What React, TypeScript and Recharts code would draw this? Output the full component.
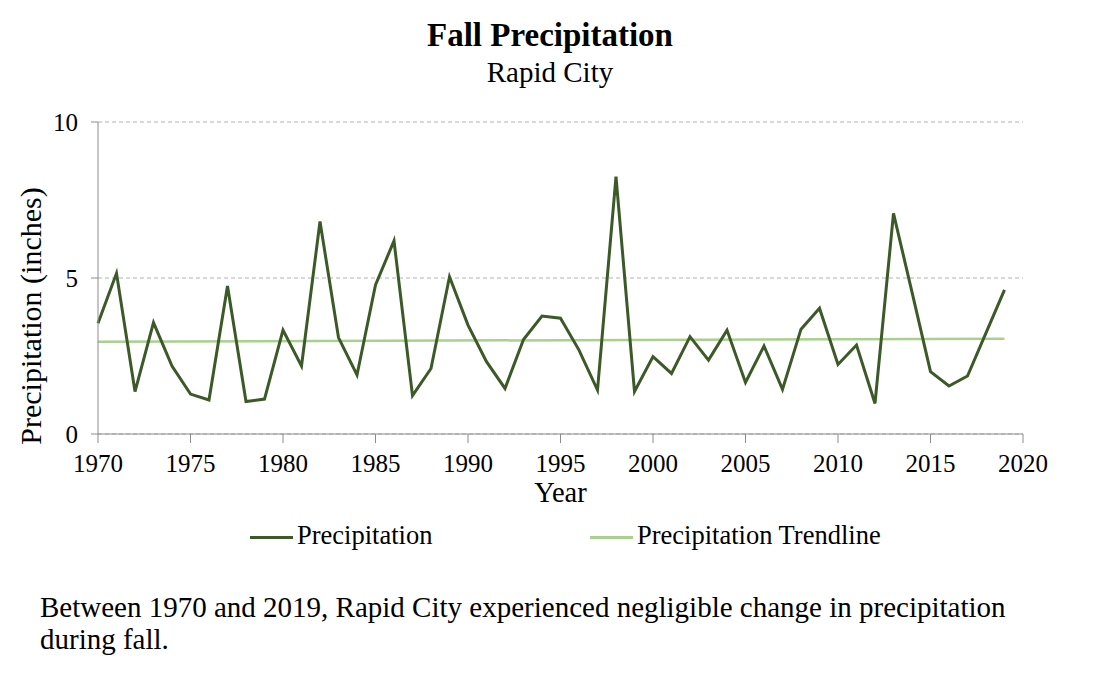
import React from 'react';
import { LineChart, Line, XAxis, YAxis, CartesianGrid } from 'recharts';

const years = [
  1970, 1971, 1972, 1973, 1974, 1975, 1976, 1977, 1978, 1979,
  1980, 1981, 1982, 1983, 1984, 1985, 1986, 1987, 1988, 1989,
  1990, 1991, 1992, 1993, 1994, 1995, 1996, 1997, 1998, 1999,
  2000, 2001, 2002, 2003, 2004, 2005, 2006, 2007, 2008, 2009,
  2010, 2011, 2012, 2013, 2014, 2015, 2016, 2017, 2018, 2019,
];

const precipitation = [
  3.55, 5.15, 1.36, 3.57, 2.18, 1.28, 1.09, 4.74, 1.04, 1.12,
  3.33, 2.18, 6.81, 3.09, 1.89, 4.78, 6.19, 1.23, 2.10, 5.04,
  3.49, 2.32, 1.46, 3.03, 3.78, 3.71, 2.69, 1.41, 8.25, 1.36,
  2.48, 1.94, 3.12, 2.37, 3.33, 1.65, 2.82, 1.43, 3.36, 4.03,
  2.23, 2.85, 0.98, 7.07, 4.55, 2.00, 1.54, 1.86, 3.24, 4.62,
];

// trendline end values (linear, drawn between first and last year)
const trendStart = 2.96;
const trendEnd = 3.05;

const xTicks = [1970, 1975, 1980, 1985, 1990, 1995, 2000, 2005, 2010, 2015, 2020];
const yTicks = [0, 5, 10];

const data = years.map((year, i) => ({
  year,
  precip: precipitation[i],
  trend: i === 0 ? trendStart : i === years.length - 1 ? trendEnd : null,
}));

const FONT = '"Liberation Serif", "Times New Roman", serif';
const DARK = '#3b5a27';
const LIGHT = '#a9d18e';
const AXIS = '#8c8c8c';

const abs = (style: React.CSSProperties): React.CSSProperties => ({
  position: 'absolute',
  whiteSpace: 'nowrap',
  lineHeight: 1,
  color: '#000',
  ...style,
});

export default function App() {
  return (
    <div
      style={{
        position: 'absolute',
        left: 0,
        top: 0,
        width: 1100,
        height: 675,
        background: '#fff',
        fontFamily: FONT,
        overflow: 'hidden',
      }}
    >
      <div style={abs({ left: 0, width: 1100, top: 19, textAlign: 'center', fontSize: 33, fontWeight: 'bold' })}>
        Fall Precipitation
      </div>
      <div style={abs({ left: 0, width: 1100, top: 58, textAlign: 'center', fontSize: 29 })}>Rapid City</div>

      <LineChart
        width={1100}
        height={675}
        data={data}
        margin={{ top: 122, right: 77, bottom: 201, left: 48 }}
        style={{ position: 'absolute', left: 0, top: 0 }}
      >
        <CartesianGrid vertical={false} stroke="#b3b3b3" strokeDasharray="4 3" />
        <XAxis
          dataKey="year"
          type="number"
          domain={[1970, 2020]}
          ticks={xTicks}
          interval={0}
          height={40}
          tickSize={9}
          tickMargin={11}
          axisLine={{ stroke: AXIS }}
          tickLine={{ stroke: AXIS }}
          tick={{ fill: '#000', fontSize: 25, fontFamily: FONT }}
        />
        <YAxis
          type="number"
          domain={[0, 10]}
          ticks={yTicks}
          interval={0}
          width={50}
          tickSize={7}
          tickMargin={13}
          axisLine={{ stroke: AXIS }}
          tickLine={{ stroke: AXIS }}
          tick={{ fill: '#000', fontSize: 25, fontFamily: FONT }}
        />
        <Line
          dataKey="trend"
          type="linear"
          stroke={LIGHT}
          strokeWidth={2.5}
          dot={false}
          connectNulls
          isAnimationActive={false}
        />
        <Line
          dataKey="precip"
          type="linear"
          stroke={DARK}
          strokeWidth={3}
          dot={false}
          isAnimationActive={false}
        />
      </LineChart>

      <div
        style={abs({
          left: 31,
          top: 316,
          fontSize: 30,
          transform: 'translate(-50%, -50%) rotate(-90deg)',
        })}
      >
        Precipitation (inches)
      </div>

      <div style={abs({ left: 0, width: 1121, top: 479, textAlign: 'center', fontSize: 28.5 })}>Year</div>

      <div style={{ position: 'absolute', left: 250, top: 536, width: 43, height: 3, background: DARK }} />
      <div style={abs({ left: 297, top: 522, fontSize: 26.5 })}>Precipitation</div>
      <div style={{ position: 'absolute', left: 590, top: 536, width: 43, height: 2.5, background: LIGHT }} />
      <div style={abs({ left: 637, top: 522, fontSize: 26.5 })}>Precipitation Trendline</div>

      <div style={{ position: 'absolute', left: 40, top: 591, fontSize: 29, lineHeight: '32px', whiteSpace: 'nowrap' }}>
        Between 1970 and 2019, Rapid City experienced negligible change in precipitation
        <br />
        during fall.
      </div>
    </div>
  );
}
